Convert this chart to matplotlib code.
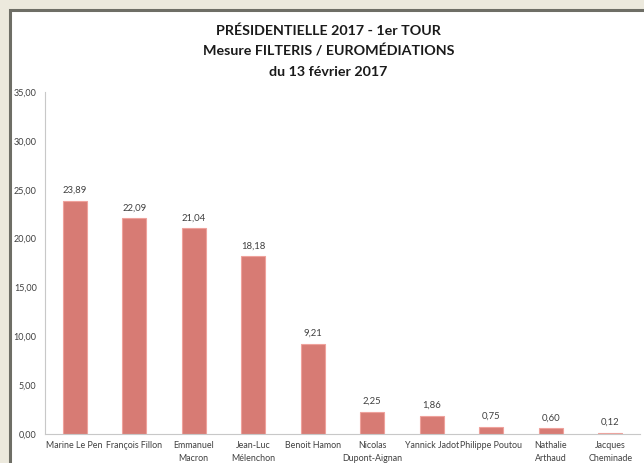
import numpy as np
import matplotlib.pyplot as plt
from matplotlib.patches import Rectangle

candidats = ["Marine Le Pen", "François Fillon", "Emmanuel\nMacron", "Jean-Luc\nMélenchon",
             "Benoit Hamon", "Nicolas\nDupont-Aignan", "Yannick Jadot", "Philippe Poutou",
             "Nathalie\nArthaud", "Jacques\nCheminade"]
scores = [23.89, 22.09, 21.04, 18.18, 9.21, 2.25, 1.86, 0.75, 0.60, 0.12]
yticks = [0, 5, 10, 15, 20, 25, 30, 35]

plt.rcParams['font.family'] = ['Lato', 'DejaVu Sans']

fig = plt.figure(figsize=(6.44, 4.63), dpi=100)
fig.patch.set_facecolor('#ECE9DD')
# white chart area with dark frame
fig.patches.append(Rectangle((9.5 / 644, -0.05), 1.1, (463 - 10.5) / 463 + 0.05,
                             transform=fig.transFigure, facecolor='white',
                             edgecolor='#6E6E66', linewidth=2.2, zorder=0))

ax = fig.add_axes([45 / 644, 29 / 463, 595 / 644, 342 / 463])
ax.set_zorder(2)
ax.set_facecolor('none')
x = np.arange(len(candidats))
bars = ax.bar(x, scores, width=0.4, color='#D77B74', edgecolor='#EFA29C', linewidth=0.8)
for xi, v in zip(x, scores):
    ax.text(xi, v + 0.6, f"{v:.2f}".replace('.', ','), ha='center', va='bottom',
            fontsize=6.8, color='#404040')

ax.set_xlim(-0.5, len(candidats) - 0.5)
ax.set_ylim(0, 35)
ax.set_yticks(yticks)
ax.set_yticklabels([f"{t:.2f}".replace('.', ',') for t in yticks], fontsize=6.5, color='#404040')
ax.set_xticks(x)
ax.set_xticklabels(candidats, fontsize=6.4, color='#404040', linespacing=1.6)
ax.tick_params(axis='x', length=0, pad=5)
ax.tick_params(axis='y', length=0, pad=6)
for s in ['top', 'right']:
    ax.spines[s].set_visible(False)
for s in ['left', 'bottom']:
    ax.spines[s].set_color('#C8C8C8')
    ax.spines[s].set_linewidth(0.8)

fig.text(0.51, 1 - 31 / 463, "PRÉSIDENTIELLE 2017 - 1er TOUR", ha='center', va='center',
         fontsize=10.3, fontweight='bold', color='#1A1A1A', zorder=3)
fig.text(0.51, 1 - 51 / 463, "Mesure FILTERIS / EUROMÉDIATIONS", ha='center', va='center',
         fontsize=10.3, fontweight='bold', color='#1A1A1A', zorder=3)
fig.text(0.51, 1 - 72 / 463, "du 13 février 2017", ha='center', va='center',
         fontsize=10.3, fontweight='bold', color='#1A1A1A', zorder=3)

fig.savefig('out.png', dpi=100)
